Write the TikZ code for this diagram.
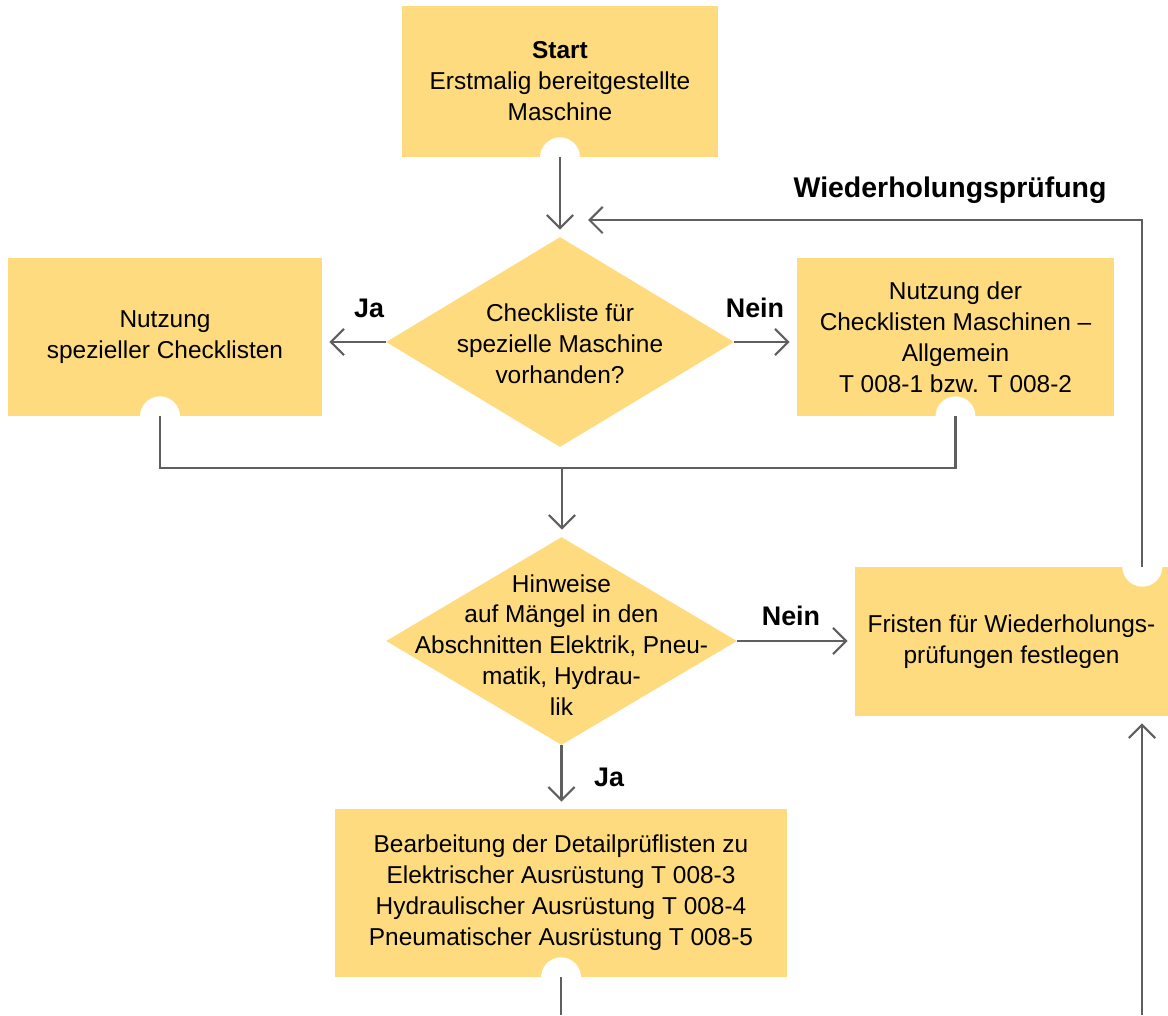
\documentclass[tikz,border=0pt]{standalone}
\usepackage{fontspec}
\setmainfont{Liberation Sans}
\usepackage{tikz}
\usetikzlibrary{shapes.geometric,arrows.meta,calc}

\definecolor{boxyellow}{RGB}{254,219,126}
\definecolor{linegray}{RGB}{95,95,95}
\newcommand\boxfont{\fontsize{13.9}{17.6}\selectfont}
\newcommand\lblfont{\fontsize{15.3}{18}\selectfont\bfseries}

\tikzset{
  box/.style={rectangle,fill=boxyellow,inner sep=0pt,align=center,font=\boxfont},
  dia/.style={diamond,fill=boxyellow,inner sep=0pt},
  dtext/.style={align=center,font=\boxfont,inner sep=0pt},
  lbl/.style={font=\lblfont,inner sep=0pt},
  notch/.style={fill=white},
  conn/.style={draw=linegray,line width=1.2pt},
  arr/.style={conn,-{Straight Barb[length=7.5pt,width=15pt,line width=1.2pt]},shorten >=4pt}
}

\begin{document}
\begin{tikzpicture}[x=0.02cm,y=-0.02cm]
  \useasboundingbox (0,0) rectangle (1168,1015);

  % boxes
  \node (start) at (560,81.5) [box,minimum width=6.32cm,minimum height=3.02cm]
    {\textbf{Start}\\Erstmalig bereitgestellte\\Maschine};
  \node (q1) at (560,342) [dia,minimum width=6.96cm,minimum height=4.2cm] {};
  \node (q1txt) at (560,344) [dtext] {Checkliste für\\spezielle Maschine\\vorhanden?};
  \node (spez) at (165,337) [box,minimum width=6.28cm,minimum height=3.16cm]
    {Nutzung\\spezieller Checklisten};
  \node (allg) at (955.5,337) [box,minimum width=6.34cm,minimum height=3.16cm]
    {Nutzung der\\Checklisten Maschinen --\\Allgemein\\T 008-1 bzw. T 008-2};
  \node (q2) at (561.5,641) [dia,minimum width=7.02cm,minimum height=4.16cm] {};
  \node (q2txt) at (561.5,645) [dtext]
    {Hinweise\\auf Mängel in den\\Abschnitten Elektrik, Pneu-\\matik, Hydrau-\\lik};
  \node (fristen) at (1011.5,641.5) [box,minimum width=6.26cm,minimum height=2.98cm]
    {Fristen für Wiederholungs-\\prüfungen festlegen};
  \node (detail) at (561,893) [box,minimum width=9.04cm,minimum height=3.36cm]
    {Bearbeitung der Detailprüflisten zu\\Elektrischer Ausrüstung T 008-3\\Hydraulischer Ausrüstung T 008-4\\Pneumatischer Ausrüstung T 008-5};

  % notches
  \coordinate (spezout) at ($(spez.south)+(-5,0)$);
  \coordinate (fristout) at ($(fristen.north east)+(-26,0)$);
  \fill[notch] (start.south) circle (0.4cm);
  \fill[notch] (spezout) circle (0.4cm);
  \fill[notch] (allg.south) circle (0.4cm);
  \fill[notch] (fristout) circle (0.4cm);
  \fill[notch] (detail.south) circle (0.4cm);

  % labels
  \node (ja1) at (369,308) [lbl] {Ja};
  \node (nein1) at (755,308) [lbl] {Nein};
  \node (nein2) at (791,616) [lbl] {Nein};
  \node (ja2) at (609,777) [lbl] {Ja};
  \node (wdh) at (950,190) [lbl,font=\fontsize{16.2}{19}\selectfont\bfseries] {Wiederholungsprüfung};

  % connectors
  \coordinate (join) at (562,468);
  \coordinate (ret) at (588,220);
  \coordinate (detailend) at (561,1015);
  \coordinate (fristin) at (1142,1015);
  \draw[arr] (start.south) -- (q1.north);
  \draw[arr] (q1.west) -- (q1.west -| spez.east);
  \draw[arr] (q1.east) -- (q1.east -| allg.west);
  \draw[conn] (spezout) |- (join) -| (allg.south);
  \draw[arr] (join) -- (join |- q2.north);
  \draw[arr] (q2.east) -- (q2.east -| fristen.west);
  \draw[arr] (q2.south) -- (q2.south |- detail.north);
  \draw[conn] (detail.south) -- (detailend);
  \draw[arr] (fristin) -- (fristin |- fristen.south);
  \draw[arr,shorten >=0pt] (fristout) |- (ret);
\end{tikzpicture}
\end{document}
